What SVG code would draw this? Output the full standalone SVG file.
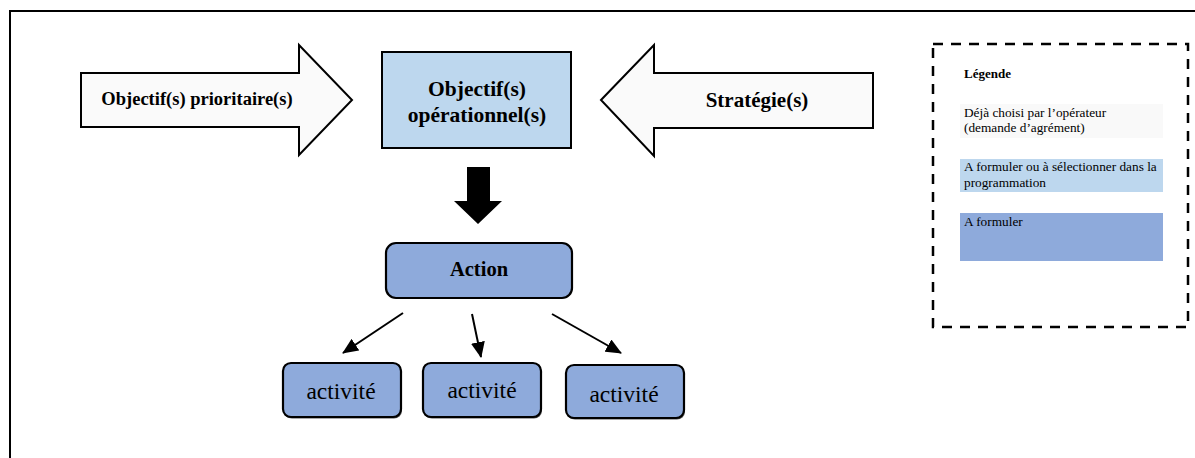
<svg xmlns="http://www.w3.org/2000/svg" width="1195" height="458" viewBox="0 0 1195 458">
<defs>
<style>
text{font-family:'Liberation Serif','Times New Roman',Tinos,'DejaVu Serif',serif;fill:#000}
.b{font-weight:bold}
.blk{fill:#fafafa;stroke:#000;stroke-width:2}
.act{fill:#8eaadb;stroke:#000;stroke-width:2.2}
.con{stroke:#000;stroke-width:2;fill:none}
</style>
<marker id="ah" markerWidth="16" markerHeight="14" refX="15" refY="7" orient="auto" markerUnits="userSpaceOnUse">
<path d="M0,0 L16,7 L0,14 Z" fill="#000"/>
</marker>
</defs>
<rect width="1195" height="458" fill="#fff"/>
<path d="M10,458 V11 H1195" fill="none" stroke="#000" stroke-width="2"/>

<g id="prioritaires">
<path class="blk" d="M81,73 H299 V45 L352,100 L299,155 V127 H81 Z"/>
<text class="b" x="197" y="105" font-size="18.5" text-anchor="middle">Objectif(s) prioritaire(s)</text>
</g>

<g id="operationnels">
<rect x="382" y="52" width="189" height="96" fill="#bdd7ee" stroke="#000" stroke-width="2"/>
<text class="b" x="477" y="96" font-size="21.5" text-anchor="middle">Objectif(s)</text>
<text class="b" x="477" y="122" font-size="21.5" text-anchor="middle">opérationnel(s)</text>
</g>

<g id="strategies">
<path class="blk" d="M601,100 L654,45 V73 H873 V128 H654 V156 Z"/>
<text class="b" x="757" y="107" font-size="21" text-anchor="middle">Stratégie(s)</text>
</g>

<g id="downarrow">
<path d="M467,167 H490 V201 H502 L478,224 L454,201 H467 Z" fill="#000"/>
</g>

<g id="action">
<rect class="act" x="386" y="243" width="186" height="55" rx="10"/>
<text class="b" x="479" y="276" font-size="20.5" text-anchor="middle">Action</text>
</g>

<g id="activite1">
<rect x="284" y="364.5" width="118" height="54" rx="8" fill="#555"/>
<rect class="act" x="283" y="363" width="118" height="54" rx="8"/>
<text x="341" y="399" font-size="23.5" text-anchor="middle">activité</text>
</g>
<g id="activite2">
<rect x="424" y="364.5" width="118" height="54" rx="8" fill="#555"/>
<rect class="act" x="423" y="363" width="118" height="54" rx="8"/>
<text x="482" y="398" font-size="23.5" text-anchor="middle">activité</text>
</g>
<g id="activite3">
<rect x="567" y="366.5" width="118" height="53" rx="8" fill="#555"/>
<rect class="act" x="566" y="365" width="118" height="53" rx="8"/>
<text x="624" y="402" font-size="23.5" text-anchor="middle">activité</text>
</g>

<g id="connectors">
<line class="con" x1="403" y1="313" x2="343" y2="353" marker-end="url(#ah)"/>
<line class="con" x1="472" y1="314" x2="481" y2="357" marker-end="url(#ah)"/>
<line class="con" x1="552" y1="314" x2="621" y2="353" marker-end="url(#ah)"/>
</g>

<g id="legende">
<rect x="933" y="44" width="255" height="283" fill="none" stroke="#000" stroke-width="2.5" stroke-dasharray="10,8"/>
<text class="b" x="964" y="78" font-size="13">Légende</text>
<rect x="960" y="104" width="203" height="34" fill="#f9f9f9"/>
<text x="964" y="117" font-size="13.3">Déjà choisi par l’opérateur</text>
<text x="964" y="132" font-size="13.3">(demande d’agrément)</text>
<rect x="960" y="159" width="203" height="33" fill="#bdd7ee"/>
<text x="964" y="171" font-size="13.3">A formuler ou à sélectionner dans la</text>
<text x="964" y="187" font-size="13.3">programmation</text>
<rect x="960" y="213" width="203" height="48" fill="#8eaadb"/>
<text x="964" y="226" font-size="13.3">A formuler</text>
</g>
</svg>
